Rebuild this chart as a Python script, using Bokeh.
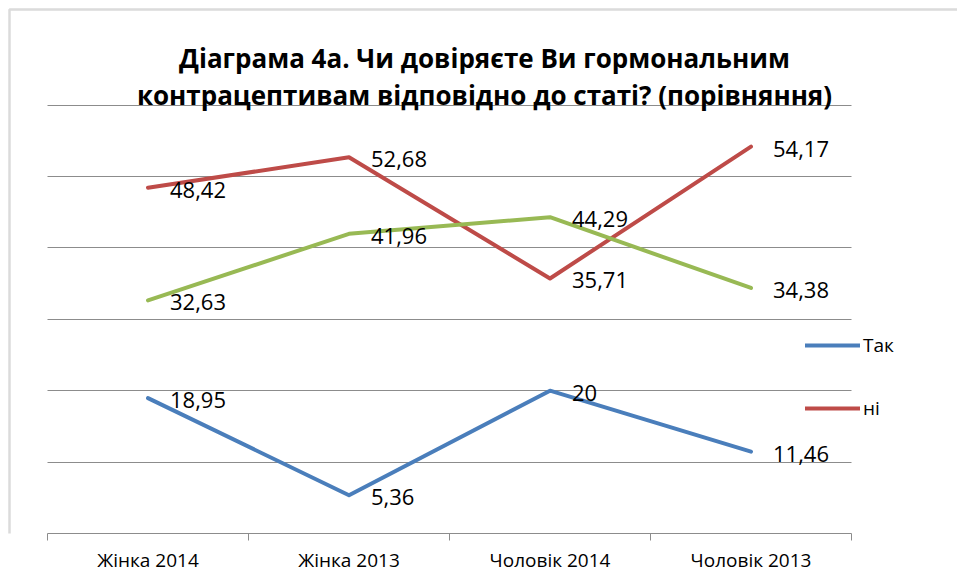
from bokeh.plotting import figure
from bokeh.models import (Range1d, LinearAxis, FixedTicker,
                          ColumnDataSource, LabelSet, Label, Legend, LegendItem, Grid,
                          BoxAnnotation)
from bokeh.core.properties import value
from bokeh.embed import file_html
from bokeh.resources import INLINE

categories = ["Жінка 2014", "Жінка 2013", "Чоловік 2014", "Чоловік 2013"]
tak = [18.95, 5.36, 20, 11.46]
ni = [48.42, 52.68, 35.71, 54.17]
third = [32.63, 41.96, 44.29, 34.38]
series_names = ["Так", "ні"]
title_lines = ["Діаграма 4а. Чи довіряєте Ви гормональним",
               "контрацептивам відповідно до статі? (порівняння)"]
y_ticks = [10, 20, 30, 40, 50, 60]
y_max = 60

FONT = "Open Sans"
BLUE = "#4A7EBB"
RED = "#BE4B48"
GREEN = "#98B954"
GRIDC = "#8C8C8C"

n = len(categories)
xc = [i + 0.5 for i in range(n)]          # category centres
boundaries = list(range(n + 1))           # category boundaries (tick marks)

# layout in pixels: the frame covers the whole canvas above the axis,
# and the data ranges are chosen so the plotting area sits at 47..851 x 104.5..533
W, FRAME_H, BOTTOM = 957, 533, 45
PX_L, PX_R, PX_TOP = 47, 851, 104.5
ux = (PX_R - PX_L) / n
uy = (FRAME_H - PX_TOP) / y_max
x_range = Range1d(-PX_L / ux, (W - PX_L) / ux)
y_range = Range1d(0, FRAME_H / uy)

p = figure(x_range=x_range, y_range=y_range,
           frame_width=W, frame_height=FRAME_H,
           min_border_left=0, min_border_right=0, min_border_top=0, min_border_bottom=BOTTOM,
           x_axis_location=None, y_axis_location=None, title=None,
           output_backend="svg", toolbar_location=None)
p.outline_line_color = None
p.xgrid.visible = False
p.ygrid.visible = False
p.background_fill_color = "white"
p.border_fill_color = "white"

grid = Grid(dimension=1, ticker=FixedTicker(ticks=y_ticks), grid_line_color=GRIDC,
            grid_line_width=1, cross_bounds=(0, n))
p.add_layout(grid, "center")

x_axis = LinearAxis(ticker=FixedTicker(ticks=xc, minor_ticks=boundaries), bounds=(0, n),
                    major_label_overrides={x: c for x, c in zip(xc, categories)},
                    axis_line_color=GRIDC, major_tick_line_color=None,
                    minor_tick_line_color=GRIDC, minor_tick_out=7, minor_tick_in=0,
                    major_tick_out=0, major_tick_in=0, major_label_standoff=6,
                    major_label_text_font=FONT, major_label_text_font_size="19px",
                    major_label_text_color="#000000")
p.add_layout(x_axis, "below")

def fmt(v):
    return f"{v:g}".replace(".", ",")

renderers = []
for vals, color in [(tak, BLUE), (ni, RED), (third, GREEN)]:
    src = ColumnDataSource(dict(x=xc, y=vals, t=[fmt(v) for v in vals]))
    r = p.line("x", "y", source=src, line_color=color, line_width=4,
               line_cap="round", line_join="round")
    renderers.append(r)
    p.add_layout(LabelSet(x="x", y="y", text="t", source=src, x_offset=22, y_offset=-2,
                          text_baseline="middle", text_align="left",
                          text_font=value(FONT), text_font_size="22px", text_color="#000000"))

legend = Legend(items=[LegendItem(label=series_names[0], renderers=[renderers[0]]),
                       LegendItem(label=series_names[1], renderers=[renderers[1]])],
                location=(805, FRAME_H - 421), orientation="vertical",
                glyph_width=55, glyph_height=20, label_height=20, label_width=10,
                spacing=37, padding=0, margin=0, label_standoff=3,
                border_line_color=None, background_fill_alpha=0,
                label_text_font=FONT, label_text_font_size="19px", label_text_color="#000000")
p.add_layout(legend, "center")

for txt, base in zip(title_lines, [57, 94]):
    p.add_layout(Label(x=484, y=FRAME_H - base, x_units="screen", y_units="screen", text=txt,
                       text_align="center", text_baseline="alphabetic",
                       text_font=FONT, text_font_style="bold", text_font_size="26px",
                       text_color="#000000"))

p.add_layout(BoxAnnotation(left=9, right=3000, top=FRAME_H - 9, bottom=-3000,
                           left_units="screen", right_units="screen",
                           top_units="screen", bottom_units="screen",
                           fill_alpha=0, line_color="#878787", line_width=2.5))

open("out.html", "w").write(file_html(p, INLINE))
